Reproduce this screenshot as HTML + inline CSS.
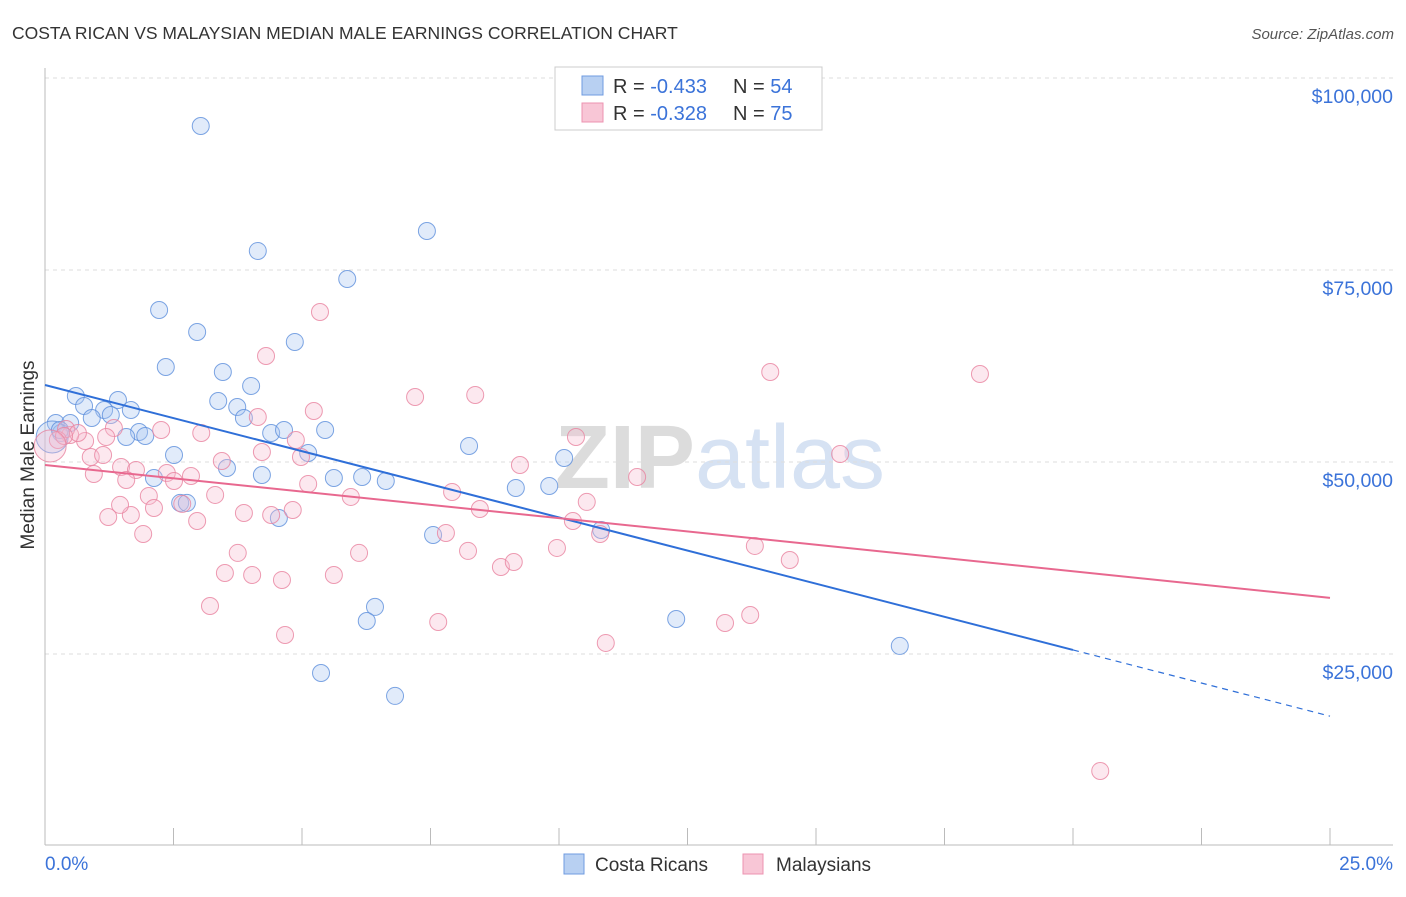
<!DOCTYPE html>
<html><head><meta charset="utf-8"><style>
body{margin:0;background:#fff;font-family:"Liberation Sans",sans-serif}
svg text{font-family:"Liberation Sans",sans-serif}
</style></head><body>
<svg id="chart" width="1406" height="892" xmlns="http://www.w3.org/2000/svg">
<text x="12" y="39" font-size="17.5" fill="#333">COSTA RICAN VS MALAYSIAN MEDIAN MALE EARNINGS CORRELATION CHART</text>
<text x="1394" y="39" font-size="15" fill="#555" font-style="italic" text-anchor="end">Source: ZipAtlas.com</text>
<text x="720" y="488" font-size="90" fill="#e6e6e6" text-anchor="middle" font-family="Liberation Serif"><tspan font-weight="bold" fill="#dcdcdc">ZIP</tspan><tspan fill="#d6e2f3">atlas</tspan></text>
<g id="grid"></g><g id="axes"></g><g id="pts"></g><g id="lines"></g>
<text transform="translate(34,455) rotate(-90)" font-size="19" fill="#333" text-anchor="middle">Median Male Earnings</text>
<text x="45" y="870" font-size="19" fill="#3b73d9">0.0%</text>
<text x="1393" y="870" font-size="19" fill="#3b73d9" text-anchor="end">25.0%</text>
<g>
<rect x="555" y="67" width="267" height="63" fill="#fff" stroke="#ccc"/>
<rect x="582" y="76" width="21" height="19" fill="#b8d0f2" stroke="#6f9be0"/>
<rect x="582" y="103" width="21" height="19" fill="#f8c6d6" stroke="#ec93b0"/>
<text x="613" y="93" font-size="20" fill="#333">R = <tspan fill="#3b73d9">-0.433</tspan><tspan x="733">N = </tspan><tspan fill="#3b73d9">54</tspan></text>
<text x="613" y="120" font-size="20" fill="#333">R = <tspan fill="#3b73d9">-0.328</tspan><tspan x="733">N = </tspan><tspan fill="#3b73d9">75</tspan></text>
</g>
<g>
<rect x="564" y="854" width="20" height="20" fill="#b8d0f2" stroke="#6f9be0"/>
<text x="595" y="871" font-size="19" fill="#333">Costa Ricans</text>
<rect x="743" y="854" width="20" height="20" fill="#f8c6d6" stroke="#ec93b0"/>
<text x="776" y="871" font-size="19" fill="#333">Malaysians</text>
</g>
</svg>
<script>
const yTicks=[25000,50000,75000,100000];
const yTickLabels=["$25,000","$50,000","$75,000","$100,000"];
const blueX=[3.03,4.14,7.43,5.88,2.22,2.96,4.86,2.35,3.46,4.01,0.60,1.42,3.37,0.76,1.15,1.67,3.74,0.91,1.28,3.87,0.21,0.49,0.31,1.83,4.40,4.65,5.45,1.58,1.95,8.25,10.10,2.51,5.12,3.54,4.22,5.62,6.17,6.63,2.12,9.16,9.81,2.63,2.76,4.55,7.55,10.82,6.42,6.26,12.28,16.63,5.37,6.81,0.14,0.29];
const blueY=[93750,77480,80080,73830,69790,66930,65630,62370,61720,59900,58590,58070,57940,57290,56770,56770,57160,55730,56120,55730,55080,55080,53780,53910,53780,54170,54170,53260,53390,52090,50520,50910,51170,49220,48310,47920,48050,47530,47920,46620,46880,44670,44670,42710,40500,41150,31130,29300,29560,26050,22530,19540,53260,54170];
const pinkX=[5.35,4.30,14.11,18.19,7.20,8.37,5.23,4.14,1.34,2.26,3.04,10.33,1.19,0.78,4.88,0.49,3.44,4.22,4.98,0.89,1.13,9.24,15.47,1.48,1.77,2.37,1.58,2.51,2.84,5.12,7.92,5.95,11.52,2.02,3.31,2.12,2.67,10.54,8.46,3.87,4.40,4.82,1.23,1.67,2.96,10.27,1.91,7.80,10.80,3.75,6.11,8.23,9.96,13.81,3.50,4.03,4.61,5.62,8.87,9.12,14.49,3.21,13.72,7.65,13.23,4.67,10.91,20.53,0.41,0.25,0.64,0.37,0.10,0.95,1.46];
const pinkY=[69530,63800,61720,61460,58460,58730,56640,55860,54430,54170,53780,53260,53260,52740,52870,53520,50130,51300,50650,50650,50910,49610,51040,49350,48960,48570,47660,47530,48180,47140,46100,45450,48050,45580,45710,44010,44540,44800,43880,43360,43100,43750,42840,43100,42320,42320,40630,40760,40630,38160,38160,38420,38810,39070,35550,35290,34640,35290,36330,36980,37240,31250,30080,29170,29040,27480,26440,9770,54300,52870,53780,53390,52090,48440,44410];
const blueTrend=[60030,-1725]; // intercept, slope per pct
const pinkTrend=[49610,-692];
const X=p=>45+p*51.4, Y=v=>78+(100000-v)*192/25000;
const NS="http://www.w3.org/2000/svg";
function mk(t,a,parent){const e=document.createElementNS(NS,t);for(const k in a)e.setAttribute(k,a[k]);document.getElementById(parent).appendChild(e);return e;}
yTicks.forEach((v,i)=>{
 const l=mk('line',{x1:45,x2:1393,y1:Y(v),y2:Y(v),stroke:'#ddd','stroke-dasharray':'4,4'},'grid');
 
 
 const t=mk('text',{x:1393,y:Y(v)+25,'font-size':19.5,fill:'#3b73d9','text-anchor':'end'},'grid');
 t.textContent=yTickLabels[i];
 
 
});
const ax=mk('line',{x1:45,x2:45,y1:68,y2:845,stroke:'#bbb'},'axes');


const bx=mk('line',{x1:45,x2:1393,y1:845,y2:845,stroke:'#bbb'},'axes');


for(let i=1;i<=10;i++){const t=mk('line',{x1:X(i*2.5),x2:X(i*2.5),y1:828,y2:845,stroke:'#bbb'},'axes');
 
 }
function pts(xs,ys,fill,stroke,name){xs.forEach((p,i)=>{
 const big=p<0.2;
 const c=mk('circle',{cx:X(p),cy:Y(ys[i]),r:big?16:8.5,fill:fill,'fill-opacity':0.35,stroke:stroke,'stroke-opacity':0.8,'stroke-width':1},'pts');
 
 });}
pts(blueX,blueY,'#a9c6f0','#5c8fdc','costa-rican-point');
pts(pinkX,pinkY,'#f6bcd0','#e8829f','malaysian-point');
const bl=mk('line',{x1:X(0),y1:Y(blueTrend[0]),x2:X(20),y2:Y(blueTrend[0]+20*blueTrend[1]),stroke:'#2f6fd8','stroke-width':2},'lines');


const bd=mk('line',{x1:X(20),y1:Y(blueTrend[0]+20*blueTrend[1]),x2:X(25),y2:Y(blueTrend[0]+25*blueTrend[1]),stroke:'#2f6fd8','stroke-width':1.2,'stroke-dasharray':'6,5'},'lines');


const pl=mk('line',{x1:X(0),y1:Y(pinkTrend[0]),x2:X(25),y2:Y(pinkTrend[0]+25*pinkTrend[1]),stroke:'#e8688f','stroke-width':2},'lines');


</script>
</body></html>
